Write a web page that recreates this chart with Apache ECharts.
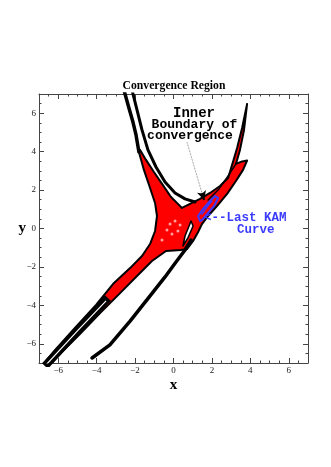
<!DOCTYPE html>
<html>
<head>
<meta charset="utf-8">
<script src="https://cdn.jsdelivr.net/npm/echarts@6/dist/echarts.min.js"></script>
<style>
  html, body { margin: 0; padding: 0; background: #fff; }
  #chart { width: 331px; height: 467px; }
</style>
</head>
<body>
<div id="chart"></div>
<script>
// axis range and tick labels (x and y are the same)
const axisRange = [-7, 7];
const tickLabels = [-6, -4, -2, 0, 2, 4, 6];

// red convergence region, outline traced round the whole shape
const bodyOutline = [
  [-1.74, 4.09], [-1.43, 3.57], [-1.02, 2.94], [-0.55, 2.26], [-0.13, 1.64], [0.23, 1.28], [0.44, 1.07],
  [0.86, 1.28], [1.38, 1.54], [1.90, 1.85], [2.42, 2.21], [2.84, 2.63],
  [3.05, 3.31], [3.31, 4.19], [3.57, 5.23], [3.83, 6.48],
  [3.67, 5.13], [3.46, 4.09], [3.25, 3.36],
  [3.57, 3.49], [3.83, 3.54],
  [3.62, 3.05], [3.25, 2.47], [2.79, 1.80], [2.26, 1.17], [1.80, 0.65],
  [1.48, 0.23], [1.28, -0.18], [1.02, -0.65], [0.70, -1.07], [0.39, -1.12],
  [-0.39, -1.17], [-1.12, -1.69], [-1.90, -2.47], [-2.73, -3.31], [-3.77, -4.35], [-4.82, -5.44], [-5.86, -6.48], [-6.48, -7.16],
  [-6.85, -7.16], [-6.17, -6.33], [-5.13, -5.18], [-4.03, -3.98], [-3.15, -2.89], [-2.26, -2.06], [-1.64, -1.43], [-1.22, -0.81],
  [-0.96, -0.13], [-0.86, 0.65], [-0.96, 1.33], [-1.22, 2.11], [-1.54, 3.05], [-1.80, 3.98]
];

// black boundary curves
const outerBranch = [[-2.58, 7.21], [-2.32, 6.27], [-2.11, 5.54], [-1.95, 4.87], [-1.80, 3.98]];
const innerBoundary = [[-2.16, 7.21], [-1.90, 6.17], [-1.64, 5.13], [-1.33, 4.09], [-0.91, 3.20],
  [-0.44, 2.42], [0.08, 1.85], [0.60, 1.54], [1.12, 1.38]];
const spikeFold = [[3.25, 3.36], [2.84, 2.73], [2.32, 2.00], [1.80, 1.48]];
const lowerRightArm = [[0.91, -0.60], [0.60, -1.12], [0.13, -1.74], [-0.44, -2.52], [-1.22, -3.51],
  [-2.26, -4.82], [-3.31, -6.06], [-4.24, -6.74]];
const armDark = [[-3.41, -3.62], [-4.95, -5.28], [-6.69, -7.16]];
const armGap = [[-3.51, -3.77], [-4.95, -5.28], [-6.69, -7.16]];

// white hole inside the lower body
const hole = [[0.91, 0.39], [1.02, 0.13], [0.75, -0.49], [0.49, -0.91], [0.60, -0.39], [0.81, 0.13]];

// pale specks inside the region
const specks = [[-0.18, 0.23], [0.08, 0.39], [0.34, 0.18], [0.23, -0.13], [-0.08, -0.29], [-0.34, -0.08], [-0.60, -0.60]];

// last KAM curve (blue)
const kamCurve = [[1.38, 0.39], [1.28, 0.65], [1.54, 1.02], [1.90, 1.43], [2.16, 1.69], [2.32, 1.59],
  [2.11, 1.17], [1.80, 0.81], [1.48, 0.44]];
const kamInner = [[1.48, 0.75], [1.74, 1.12], [2.00, 1.43]];

// pointer from the "Inner Boundary" note
const pointer = [[0.70, 4.50], [1.59, 1.48]];

const serif = '"Liberation Serif", "Times New Roman", serif';
const mono = '"Liberation Mono", "Courier New", monospace';
const frameColor = '#444';

function fmt(v) {
  if (tickLabels.indexOf(v) < 0) return '';
  return String(v).replace('-', '\u2212');
}

function majorAxis(pos, labels, name) {
  const a = {
    type: 'value', position: pos, min: axisRange[0], max: axisRange[1], splitNumber: 7,
    axisLine: { show: true, onZero: false, lineStyle: { color: frameColor, width: 1 } },
    axisTick: { inside: true, length: 5, lineStyle: { color: frameColor } },
    axisLabel: { show: labels, formatter: fmt, margin: 3, color: '#222', fontFamily: serif, fontSize: 9,
      showMinLabel: false, showMaxLabel: false },
    splitLine: { show: false }
  };
  if (name) {
    a.name = name;
    a.nameLocation = 'middle';
    a.nameRotate = 0;
    a.nameMoveOverlap = false;
    a.nameTextStyle = { fontFamily: serif, fontWeight: 'bold', fontSize: 15, color: '#000' };
  }
  return a;
}

function minorAxis(pos) {
  return {
    type: 'value', position: pos, min: axisRange[0], max: axisRange[1], interval: 0.5,
    axisLine: { show: false, onZero: false },
    axisTick: { inside: true, length: 2.5, lineStyle: { color: frameColor } },
    axisLabel: { show: false },
    splitLine: { show: false }
  };
}

function polygon(points, fill, stroke, width) {
  return {
    type: 'custom',
    clip: true,
    data: [[0, 0]],
    silent: true,
    renderItem: function (params, api) {
      return {
        type: 'polygon',
        shape: { points: points.map(p => api.coord(p)) },
        style: { fill: fill, stroke: stroke, lineWidth: width, lineJoin: 'round' }
      };
    }
  };
}

function curve(points, color, width, cap) {
  return {
    type: 'line',
    data: points,
    showSymbol: false,
    silent: true,
    animation: false,
    lineStyle: { color: color, width: width, cap: cap || 'round', join: 'round' }
  };
}

const chart = echarts.init(document.getElementById('chart'));

const xMain = majorAxis('bottom', true, 'x');
xMain.nameGap = 15;
const yMain = majorAxis('left', true, 'y');
yMain.nameGap = 13;

// arrow tip segment: last part of the pointer line
const tipStart = [
  pointer[1][0] + (pointer[0][0] - pointer[1][0]) * 0.12,
  pointer[1][1] + (pointer[0][1] - pointer[1][1]) * 0.12
];

chart.setOption({
  animation: false,
  backgroundColor: '#fff',
  grid: { left: 39, right: 23, top: 94, bottom: 104 },
  xAxis: [xMain, minorAxis('bottom'), majorAxis('top', false), minorAxis('top')],
  yAxis: [yMain, minorAxis('left'), majorAxis('right', false), minorAxis('right')],
  graphic: [
    { type: 'text', x: 174, y: 86, style: { text: 'Convergence Region', fontFamily: serif, fontWeight: 'bold',
      fontSize: 11.7, fill: '#000', align: 'center', verticalAlign: 'middle' } },
    { type: 'text', x: 194, y: 113, z: 50, style: { text: 'Inner', fontFamily: mono, fontWeight: 'bold',
      fontSize: 14, fill: '#000', align: 'center', verticalAlign: 'middle' } },
    { type: 'text', x: 194.5, y: 125, z: 50, style: { text: 'Boundary of', fontFamily: mono, fontWeight: 'bold',
      fontSize: 13, fill: '#000', align: 'center', verticalAlign: 'middle' } },
    { type: 'text', x: 190, y: 136, z: 50, style: { text: 'convergence', fontFamily: mono, fontWeight: 'bold',
      fontSize: 13, fill: '#000', align: 'center', verticalAlign: 'middle' } },
    { type: 'text', x: 204, y: 218, z: 50, style: { text: '<--Last KAM', fontFamily: mono, fontWeight: 'bold',
      fontSize: 12.5, fill: '#3a3aff', align: 'left', verticalAlign: 'middle' } },
    { type: 'text', x: 237, y: 230, z: 50, style: { text: 'Curve', fontFamily: mono, fontWeight: 'bold',
      fontSize: 12.5, fill: '#3a3aff', align: 'left', verticalAlign: 'middle' } }
  ],
  series: [
    polygon(bodyOutline, '#ff0000', '#000', 2),
    curve(outerBranch, '#000', 3.5),
    curve(innerBoundary, '#000', 3),
    curve(spikeFold, '#000', 1.5),
    curve(lowerRightArm, '#000', 3.5),
    curve(armDark, '#000', 8, 'butt'),
    curve(armGap, '#fff', 1.2, 'butt'),
    polygon(hole, '#fff', '#000', 1.5),
    {
      type: 'scatter', data: specks, symbolSize: 3, silent: true,
      itemStyle: { color: '#ffc8c8' }
    },
    polygon(kamCurve, 'none', '#3a3aff', 2),
    curve(kamInner, '#3a3aff', 1.5),
    {
      type: 'line', data: [], silent: true,
      markLine: {
        silent: true, animation: false, label: { show: false },
        data: [
          [{ coord: pointer[0], symbol: 'none', lineStyle: { color: '#666', width: 0.8, type: 'dotted' } },
           { coord: pointer[1], symbol: 'none' }],
          [{ coord: tipStart, symbol: 'none', lineStyle: { color: '#000', width: 2, type: 'solid' } },
           { coord: pointer[1], symbol: 'arrow', symbolSize: [7, 9] }]
        ]
      }
    }
  ]
});
</script>
</body>
</html>
